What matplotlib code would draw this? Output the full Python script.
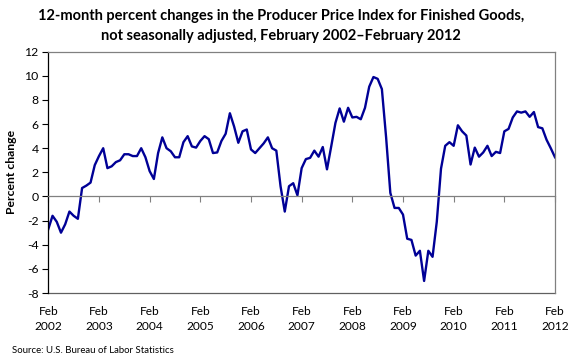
import matplotlib
matplotlib.use("Agg")
import matplotlib.pyplot as plt

plt.rcParams["font.family"] = ["Lato", "DejaVu Sans"]

# -----------------------------
# Data: monthly, Feb 2002 - Feb 2012
# -----------------------------

pct_change = [
    -2.7, -1.6, -2.1, -3.0, -2.3, -1.25, -1.6, -1.85, 0.7, 0.9, 1.15, 2.6,   # Feb02-Jan03
    3.35, 4.0, 2.35, 2.5, 2.85, 3.0, 3.5, 3.5, 3.35, 3.35, 4.0, 3.25,       # Feb03-Jan04
    2.1, 1.45, 3.6, 4.9, 4.0, 3.75, 3.25, 3.25, 4.5, 5.0, 4.15, 4.05,       # Feb04-Jan05
    4.6, 5.0, 4.75, 3.6, 3.65, 4.6, 5.2, 6.9, 5.8, 4.45, 5.4, 5.55,         # Feb05-Jan06
    3.9, 3.6, 4.0, 4.4, 4.9, 4.0, 3.8, 0.85, -1.25, 0.85, 1.1, 0.1,         # Feb06-Jan07
    2.35, 3.1, 3.2, 3.8, 3.3, 4.1, 2.25, 4.15, 6.1, 7.3, 6.2, 7.35,         # Feb07-Jan08
    6.55, 6.6, 6.4, 7.35, 9.1, 9.9, 9.75, 8.9, 4.9, 0.3, -0.95, -0.95,      # Feb08-Jan09
    -1.5, -3.5, -3.6, -4.9, -4.5, -7.0, -4.5, -5.0, -2.1, 2.3, 4.2, 4.5,    # Feb09-Jan10
    4.2, 5.9, 5.4, 5.05, 2.65, 4.05, 3.3, 3.65, 4.2, 3.35, 3.7, 3.6,        # Feb10-Jan11
    5.4, 5.6, 6.55, 7.05, 6.95, 7.05, 6.6, 7.0, 5.75, 5.65, 4.7, 4.0,       # Feb11-Jan12
    3.25,                                                                   # Feb12
]
months = list(range(len(pct_change)))

tick_pos = list(range(0, 121, 12))
tick_labels = ["Feb\n%d" % y for y in range(2002, 2013)]
y_ticks = list(range(-8, 13, 2))

title = ("12-month percent changes in the Producer Price Index for Finished Goods,\n"
         "not seasonally adjusted, February 2002\u2013February 2012")

# -----------------------------
# Plot
# -----------------------------

fig = plt.figure(figsize=(5.8, 3.63), dpi=100)
ax = fig.add_axes([0.0833, 0.1928, 0.8736, 0.6648])

ax.plot(months, pct_change, color="#000096", linewidth=1.7, solid_joinstyle="round")

ax.set_xlim(0, 120)
ax.set_ylim(-8, 12)

# y axis
ax.set_yticks(y_ticks)
ax.set_yticklabels([str(v) for v in y_ticks], fontsize=8.8)
ax.tick_params(axis="y", direction="out", length=4, width=0.8, color="black", pad=3)
ax.spines["left"].set_color("black")
ax.spines["left"].set_linewidth(0.9)
ax.set_ylabel("Percent change", fontsize=8.8, fontweight="bold", labelpad=5)

# frame
for side in ["top", "right"]:
    ax.spines[side].set_color("#808080")
    ax.spines[side].set_linewidth(0.9)

# zero line carries the tick marks
ax.spines["bottom"].set_position(("data", 0))
ax.spines["bottom"].set_color("#808080")
ax.spines["bottom"].set_linewidth(0.9)
ax.set_xticks(tick_pos)
ax.tick_params(axis="x", direction="out", length=4, width=0.8, color="#808080",
               labelbottom=False)

# labels on the bottom edge
sec = ax.secondary_xaxis("bottom")
sec.set_xticks(tick_pos)
sec.set_xticklabels(tick_labels, fontsize=8.6, linespacing=1.45)
sec.tick_params(axis="x", length=0, pad=9)
sec.spines["bottom"].set_color("#606060")
sec.spines["bottom"].set_linewidth(0.9)

fig.text(0.484, 0.975, title, ha="center", va="top", fontsize=10.5,
         fontweight="bold", linespacing=1.5)
fig.text(0.02, 0.022, "Source: U.S. Bureau of Labor Statistics", fontsize=6.9,
         ha="left", va="bottom")

plt.savefig("out.png", dpi=100)
